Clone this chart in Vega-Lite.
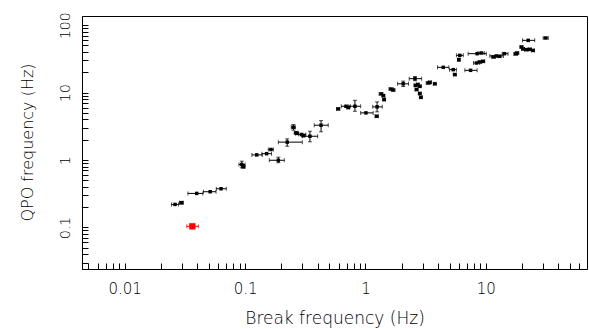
{
"$schema":"https://vega.github.io/schema/vega-lite/v6.json",
"width":505,"height":253,"autosize":"none",
"padding":{"left":82,"top":16,"right":2,"bottom":60},
"config":{"view":{"stroke":"black","strokeWidth":1},"font":"DejaVu Sans"},
"data":{"values":[
{"x":0.0262,"y":0.219,"xlo":0.0245,"xhi":0.0280,"ylo":null,"yhi":null,"g":"a"},
{"x":0.0296,"y":0.232,"xlo":0.0285,"xhi":0.0307,"ylo":0.222,"yhi":0.243,"g":"a"},
{"x":0.0397,"y":0.319,"xlo":0.0335,"xhi":0.0446,"ylo":null,"yhi":null,"g":"a"},
{"x":0.0513,"y":0.338,"xlo":0.0451,"xhi":0.0574,"ylo":null,"yhi":null,"g":"a"},
{"x":0.0632,"y":0.374,"xlo":0.0577,"xhi":0.0698,"ylo":null,"yhi":null,"g":"a"},
{"x":0.0365,"y":0.1035,"xlo":0.0328,"xhi":0.041,"ylo":null,"yhi":null,"g":"b"},
{"x":0.094,"y":0.857,"xlo":0.089,"xhi":0.100,"ylo":0.767,"yhi":0.96,"g":"a"},
{"x":0.097,"y":0.79,"xlo":0.094,"xhi":0.100,"ylo":null,"yhi":null,"g":"a"},
{"x":0.125,"y":1.19,"xlo":0.114,"xhi":0.139,"ylo":null,"yhi":null,"g":"a"},
{"x":0.151,"y":1.24,"xlo":0.138,"xhi":0.166,"ylo":null,"yhi":null,"g":"a"},
{"x":0.164,"y":1.43,"xlo":0.156,"xhi":0.172,"ylo":null,"yhi":null,"g":"a"},
{"x":0.189,"y":0.99,"xlo":0.159,"xhi":0.212,"ylo":0.91,"yhi":1.10,"g":"a"},
{"x":0.224,"y":1.84,"xlo":0.189,"xhi":0.299,"ylo":1.60,"yhi":2.06,"g":"a"},
{"x":0.252,"y":3.06,"xlo":0.242,"xhi":0.262,"ylo":2.77,"yhi":3.36,"g":"a"},
{"x":0.265,"y":2.53,"xlo":0.256,"xhi":0.275,"ylo":null,"yhi":null,"g":"a"},
{"x":0.270,"y":2.48,"xlo":0.262,"xhi":0.279,"ylo":null,"yhi":null,"g":"a"},
{"x":0.296,"y":2.39,"xlo":0.28,"xhi":0.32,"ylo":null,"yhi":null,"g":"a"},
{"x":0.305,"y":2.3,"xlo":0.295,"xhi":0.315,"ylo":null,"yhi":null,"g":"a"},
{"x":0.346,"y":2.25,"xlo":0.301,"xhi":0.401,"ylo":1.86,"yhi":2.67,"g":"a"},
{"x":0.428,"y":3.28,"xlo":0.376,"xhi":0.491,"ylo":2.62,"yhi":3.84,"g":"a"},
{"x":0.594,"y":5.73,"xlo":0.575,"xhi":0.613,"ylo":null,"yhi":null,"g":"a"},
{"x":0.689,"y":6.27,"xlo":0.63,"xhi":0.75,"ylo":null,"yhi":null,"g":"a"},
{"x":0.72,"y":6.0,"xlo":0.70,"xhi":0.74,"ylo":null,"yhi":null,"g":"a"},
{"x":0.818,"y":6.27,"xlo":0.72,"xhi":0.913,"ylo":5.28,"yhi":7.69,"g":"a"},
{"x":1.01,"y":5.0,"xlo":0.913,"xhi":1.16,"ylo":null,"yhi":null,"g":"a"},
{"x":1.25,"y":6.14,"xlo":1.15,"xhi":1.38,"ylo":5.18,"yhi":7.28,"g":"a"},
{"x":1.24,"y":4.46,"xlo":1.20,"xhi":1.28,"ylo":null,"yhi":null,"g":"a"},
{"x":1.35,"y":9.57,"xlo":1.30,"xhi":1.40,"ylo":null,"yhi":null,"g":"a"},
{"x":1.41,"y":9.0,"xlo":1.37,"xhi":1.45,"ylo":null,"yhi":null,"g":"a"},
{"x":1.43,"y":7.87,"xlo":1.39,"xhi":1.47,"ylo":null,"yhi":null,"g":"a"},
{"x":1.63,"y":11.3,"xlo":1.57,"xhi":1.70,"ylo":null,"yhi":null,"g":"a"},
{"x":1.70,"y":10.9,"xlo":1.65,"xhi":1.76,"ylo":null,"yhi":null,"g":"a"},
{"x":2.06,"y":13.5,"xlo":1.85,"xhi":2.28,"ylo":12.3,"yhi":14.8,"g":"a"},
{"x":2.58,"y":16.1,"xlo":2.31,"xhi":2.93,"ylo":15.0,"yhi":17.3,"g":"a"},
{"x":2.61,"y":12.8,"xlo":2.53,"xhi":2.69,"ylo":null,"yhi":null,"g":"a"},
{"x":2.72,"y":13.2,"xlo":2.64,"xhi":2.80,"ylo":null,"yhi":null,"g":"a"},
{"x":2.66,"y":11.1,"xlo":2.58,"xhi":2.74,"ylo":null,"yhi":null,"g":"a"},
{"x":2.83,"y":12.4,"xlo":2.75,"xhi":2.91,"ylo":null,"yhi":null,"g":"a"},
{"x":2.83,"y":9.7,"xlo":2.75,"xhi":2.91,"ylo":null,"yhi":null,"g":"a"},
{"x":2.89,"y":8.5,"xlo":2.81,"xhi":2.97,"ylo":null,"yhi":null,"g":"a"},
{"x":3.32,"y":13.9,"xlo":3.2,"xhi":3.45,"ylo":null,"yhi":null,"g":"a"},
{"x":3.43,"y":14.2,"xlo":3.33,"xhi":3.53,"ylo":null,"yhi":null,"g":"a"},
{"x":3.77,"y":13.5,"xlo":3.66,"xhi":3.88,"ylo":null,"yhi":null,"g":"a"},
{"x":4.43,"y":23.7,"xlo":3.97,"xhi":4.93,"ylo":null,"yhi":null,"g":"a"},
{"x":5.36,"y":21.9,"xlo":5.0,"xhi":5.7,"ylo":null,"yhi":null,"g":"a"},
{"x":5.53,"y":18.5,"xlo":5.37,"xhi":5.69,"ylo":null,"yhi":null,"g":"a"},
{"x":6.08,"y":35.7,"xlo":5.7,"xhi":6.5,"ylo":null,"yhi":null,"g":"a"},
{"x":5.97,"y":30.8,"xlo":5.85,"xhi":6.1,"ylo":29.5,"yhi":32.2,"g":"a"},
{"x":7.47,"y":21.4,"xlo":6.70,"xhi":8.47,"ylo":null,"yhi":null,"g":"a"},
{"x":8.47,"y":37.8,"xlo":7.13,"xhi":10.1,"ylo":null,"yhi":null,"g":"a"},
{"x":8.37,"y":27.5,"xlo":7.9,"xhi":8.9,"ylo":null,"yhi":null,"g":"a"},
{"x":8.92,"y":28.5,"xlo":8.6,"xhi":9.25,"ylo":null,"yhi":null,"g":"a"},
{"x":9.5,"y":29.1,"xlo":9.2,"xhi":9.8,"ylo":null,"yhi":null,"g":"a"},
{"x":9.15,"y":38.7,"xlo":8.6,"xhi":9.7,"ylo":null,"yhi":null,"g":"a"},
{"x":12.2,"y":35.0,"xlo":10.8,"xhi":14.0,"ylo":null,"yhi":null,"g":"a"},
{"x":11.6,"y":33.8,"xlo":11.2,"xhi":12.0,"ylo":null,"yhi":null,"g":"a"},
{"x":13.0,"y":34.6,"xlo":12.6,"xhi":13.4,"ylo":null,"yhi":null,"g":"a"},
{"x":14.3,"y":37.8,"xlo":13.7,"xhi":15.3,"ylo":null,"yhi":null,"g":"a"},
{"x":17.7,"y":37.5,"xlo":17.1,"xhi":18.3,"ylo":null,"yhi":null,"g":"a"},
{"x":18.2,"y":38.7,"xlo":17.6,"xhi":18.8,"ylo":null,"yhi":null,"g":"a"},
{"x":19.8,"y":47.5,"xlo":19.2,"xhi":20.4,"ylo":null,"yhi":null,"g":"a"},
{"x":20.4,"y":44.4,"xlo":19.8,"xhi":21.0,"ylo":null,"yhi":null,"g":"a"},
{"x":21.7,"y":43.4,"xlo":21.0,"xhi":22.4,"ylo":null,"yhi":null,"g":"a"},
{"x":23.2,"y":43.8,"xlo":22.5,"xhi":23.9,"ylo":null,"yhi":null,"g":"a"},
{"x":24.7,"y":42.3,"xlo":24.0,"xhi":25.4,"ylo":null,"yhi":null,"g":"a"},
{"x":22.5,"y":59.6,"xlo":20.2,"xhi":25.5,"ylo":null,"yhi":null,"g":"a"},
{"x":31.5,"y":64.6,"xlo":30.0,"xhi":33.0,"ylo":null,"yhi":null,"g":"a"}
]},
"layer":[
{"mark":{"type":"square","filled":true,"opacity":1},
 "encoding":{
  "x":{"field":"x","type":"quantitative","scale":{"type":"log","domain":[0.00442,69.3],"nice":false},
   "axis":{"domain":true,"domainColor":"black","domainWidth":1,"grid":false,"ticks":true,"tickColor":"black","tickWidth":1,"tickSize":-6,
    "values":[0.005,0.006,0.007,0.008,0.009,0.01,0.02,0.03,0.04,0.05,0.06,0.07,0.08,0.09,0.1,0.2,0.3,0.4,0.5,0.6,0.7,0.8,0.9,1,2,3,4,5,6,7,8,9,10,20,30,40,50,60],
    "format":"~g","labelExpr":"abs(log(datum.value)/LN10 - round(log(datum.value)/LN10)) < 0.001 ? datum.label : ''",
    "labelFlush":false,"labelOverlap":false,"labelPadding":18,"labelFontSize":15,"labelFontWeight":200,"labelColor":"black",
    "title":"Break frequency (Hz)","titleFontSize":17,"titleFontWeight":200,"titleColor":"black","titleX":252.5,"titleY":54,"titleAlign":"center","titleBaseline":"alphabetic","titleAngle":0}},
  "y":{"field":"y","type":"quantitative","scale":{"type":"log","domain":[0.0241,137],"nice":false},
   "axis":{"domain":true,"domainColor":"black","domainWidth":1,"grid":false,"ticks":true,"tickColor":"black","tickWidth":1,"tickSize":-6,
    "values":[0.03,0.04,0.05,0.06,0.07,0.08,0.09,0.1,0.2,0.3,0.4,0.5,0.6,0.7,0.8,0.9,1,2,3,4,5,6,7,8,9,10,20,30,40,50,60,70,80,90,100],
    "format":"~g","labelExpr":"abs(log(datum.value)/LN10 - round(log(datum.value)/LN10)) < 0.001 ? datum.label : ''",
    "labelFlush":false,"labelOverlap":false,"labelAngle":270,"labelAlign":"center","labelBaseline":"alphabetic","labelPadding":18.5,"labelFontSize":14,"labelFontWeight":200,"labelColor":"black",
    "title":"QPO frequency (Hz)","titleFontSize":16,"titleFontWeight":200,"titleColor":"black","titleAngle":270,"titleX":-49.5,"titleY":126,"titleAlign":"center","titleBaseline":"alphabetic"}},
  "size":{"field":"g","type":"ordinal","scale":{"domain":["a","b"],"range":[12,40]},"legend":null},
  "color":{"field":"g","type":"nominal","scale":{"domain":["a","b"],"range":["black","#ff0000"]},"legend":null}}},
{"mark":{"type":"rule","strokeWidth":1},
 "encoding":{
  "x":{"field":"xlo","type":"quantitative","scale":{"type":"log","domain":[0.00442,69.3],"nice":false}},
  "x2":{"field":"xhi"},
  "y":{"field":"y","type":"quantitative","scale":{"type":"log","domain":[0.0241,137],"nice":false}},
  "color":{"field":"g","type":"nominal","scale":{"domain":["a","b"],"range":["black","#ff0000"]},"legend":null}}},
{"mark":{"type":"rule","strokeWidth":1},
 "encoding":{
  "x":{"field":"x","type":"quantitative","scale":{"type":"log","domain":[0.00442,69.3],"nice":false}},
  "y":{"field":"ylo","type":"quantitative","scale":{"type":"log","domain":[0.0241,137],"nice":false}},
  "y2":{"field":"yhi"},
  "color":{"field":"g","type":"nominal","scale":{"domain":["a","b"],"range":["black","#ff0000"]},"legend":null}}},
{"mark":{"type":"tick","orient":"vertical","size":4,"thickness":1},
 "encoding":{
  "x":{"field":"xlo","type":"quantitative","scale":{"type":"log","domain":[0.00442,69.3],"nice":false}},
  "y":{"field":"y","type":"quantitative","scale":{"type":"log","domain":[0.0241,137],"nice":false}},
  "color":{"field":"g","type":"nominal","scale":{"domain":["a","b"],"range":["black","#ff0000"]},"legend":null}}},
{"mark":{"type":"tick","orient":"vertical","size":4,"thickness":1},
 "encoding":{
  "x":{"field":"xhi","type":"quantitative","scale":{"type":"log","domain":[0.00442,69.3],"nice":false}},
  "y":{"field":"y","type":"quantitative","scale":{"type":"log","domain":[0.0241,137],"nice":false}},
  "color":{"field":"g","type":"nominal","scale":{"domain":["a","b"],"range":["black","#ff0000"]},"legend":null}}},
{"mark":{"type":"tick","orient":"horizontal","size":4,"thickness":1},
 "encoding":{
  "x":{"field":"x","type":"quantitative","scale":{"type":"log","domain":[0.00442,69.3],"nice":false}},
  "y":{"field":"ylo","type":"quantitative","scale":{"type":"log","domain":[0.0241,137],"nice":false}},
  "color":{"field":"g","type":"nominal","scale":{"domain":["a","b"],"range":["black","#ff0000"]},"legend":null}}},
{"mark":{"type":"tick","orient":"horizontal","size":4,"thickness":1},
 "encoding":{
  "x":{"field":"x","type":"quantitative","scale":{"type":"log","domain":[0.00442,69.3],"nice":false}},
  "y":{"field":"yhi","type":"quantitative","scale":{"type":"log","domain":[0.0241,137],"nice":false}},
  "color":{"field":"g","type":"nominal","scale":{"domain":["a","b"],"range":["black","#ff0000"]},"legend":null}}}
]
}
